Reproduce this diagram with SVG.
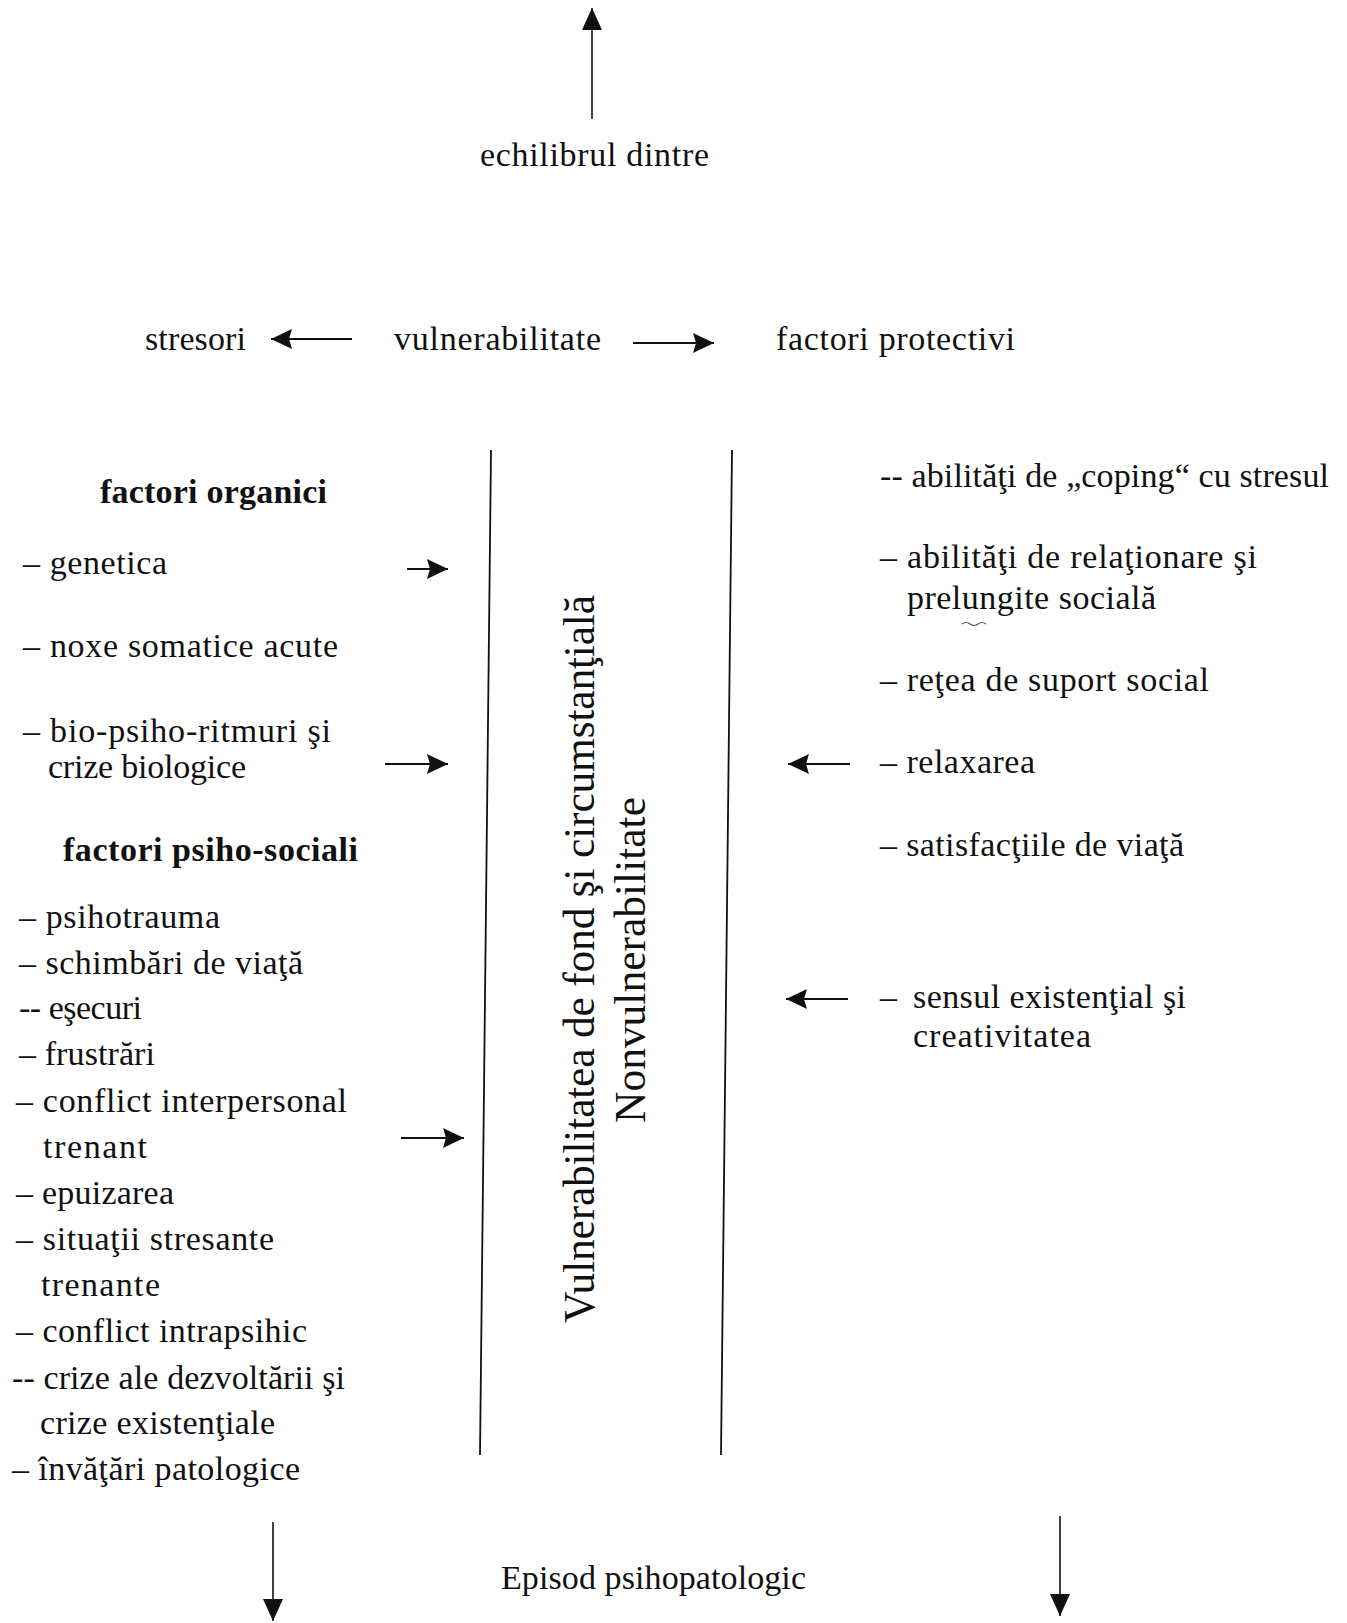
<svg xmlns="http://www.w3.org/2000/svg" width="1347" height="1623" viewBox="0 0 1347 1623">
  <style>
    .t { font-family: "Liberation Serif", "Times New Roman", serif; font-size: 34px; fill: #111; }
    .b { font-weight: bold; }
    .v { font-size: 43.5px; text-anchor: middle; }
    .ln { stroke: #111; fill: none; }
    .ar { stroke: #111; stroke-width: 1.8; fill: none; }
    .av { stroke: #111; stroke-width: 1.6; fill: none; }
  </style>
  <defs>
    <marker id="headH" markerUnits="userSpaceOnUse" viewBox="0 0 21 20" refX="21" refY="10" markerWidth="21" markerHeight="20" orient="auto">
      <path d="M0,0 L21,10 L0,20 L3,10 z" fill="#111"/>
    </marker>
    <marker id="headV" markerUnits="userSpaceOnUse" viewBox="0 0 22 20" refX="22" refY="10" markerWidth="22" markerHeight="20" orient="auto">
      <path d="M0,0 L22,10 L0,20 z" fill="#111"/>
    </marker>
  </defs>
  <rect width="1347" height="1623" fill="#fff"/>

  <!-- connectors -->
  <g id="connectors">
    <line class="av" x1="592" y1="119" x2="592" y2="8" marker-end="url(#headV)"/>
    <line class="ar" x1="352" y1="339" x2="271" y2="339" marker-end="url(#headH)"/>
    <line class="ar" x1="633" y1="343" x2="714" y2="343" marker-end="url(#headH)"/>
    <line class="ar" x1="407" y1="569" x2="448" y2="569" marker-end="url(#headH)"/>
    <line class="ar" x1="385" y1="764" x2="448" y2="764" marker-end="url(#headH)"/>
    <line class="ar" x1="401" y1="1138" x2="464" y2="1138" marker-end="url(#headH)"/>
    <line class="ar" x1="850" y1="764" x2="788" y2="764" marker-end="url(#headH)"/>
    <line class="ar" x1="848" y1="999" x2="786" y2="999" marker-end="url(#headH)"/>
    <line class="av" x1="273" y1="1522" x2="273" y2="1621" marker-end="url(#headV)"/>
    <line class="av" x1="1060" y1="1516" x2="1060" y2="1616" marker-end="url(#headV)"/>
  </g>

  <!-- central band -->
  <g id="band">
    <line class="ln" stroke-width="1.8" x1="491" y1="450" x2="480" y2="1455"/>
    <line class="ln" stroke-width="1.8" x1="732" y1="450" x2="721" y2="1455"/>
    <text class="t v" transform="translate(594,959) rotate(-90)" textLength="728">Vulnerabilitatea de fond şi circumstanţială</text>
    <text class="t v" transform="translate(645,960) rotate(-90)" textLength="326">Nonvulnerabilitate</text>
  </g>

  <g id="echilibru">
    <text class="t" x="480" y="166" textLength="229">echilibrul dintre</text>
  </g>
  <g id="stresori">
    <text class="t" x="145" y="350" textLength="101">stresori</text>
  </g>
  <g id="vulnerabilitate">
    <text class="t" x="394" y="350" textLength="207">vulnerabilitate</text>
  </g>
  <g id="factori-protectivi">
    <text class="t" x="776" y="350" textLength="239">factori protectivi</text>
  </g>

  <!-- left column: organic factors -->
  <g id="factori-organici">
    <text class="t b" x="100" y="503" textLength="227">factori organici</text>
    <text class="t" x="23" y="574" textLength="144">– genetica</text>
    <text class="t" x="23" y="657" textLength="315">– noxe somatice acute</text>
    <text class="t" x="23" y="742" textLength="308">– bio-psiho-ritmuri  şi</text>
    <text class="t" x="48" y="778" textLength="198">crize biologice</text>
  </g>

  <!-- left column: psycho-social factors -->
  <g id="factori-psiho-sociali">
    <text class="t b" x="63" y="861" textLength="295">factori psiho-sociali</text>
    <text class="t" x="19" y="928" textLength="201">– psihotrauma</text>
    <text class="t" x="19" y="974" textLength="284">– schimbări de viaţă</text>
    <text class="t" x="19" y="1019" textLength="123">-- eşecuri</text>
    <text class="t" x="19" y="1065" textLength="136">– frustrări</text>
    <text class="t" x="16" y="1112" textLength="331">– conflict interpersonal</text>
    <text class="t" x="43" y="1158" textLength="104">trenant</text>
    <text class="t" x="16" y="1204" textLength="158">– epuizarea</text>
    <text class="t" x="16" y="1250" textLength="258">– situaţii stresante</text>
    <text class="t" x="41" y="1296" textLength="119">trenante</text>
    <text class="t" x="16" y="1342" textLength="291">– conflict intrapsihic</text>
    <text class="t" x="12" y="1389" textLength="333">-- crize ale dezvoltării şi</text>
    <text class="t" x="40" y="1434" textLength="235">crize existenţiale</text>
    <text class="t" x="12" y="1480" textLength="288">– învăţări patologice</text>
  </g>

  <!-- right column: protective factors -->
  <g id="protectie">
    <text class="t" x="880" y="487" textLength="449">-- abilităţi de „coping“ cu stresul</text>
    <text class="t" x="880" y="568" textLength="377">– abilităţi de relaţionare şi</text>
    <text class="t" x="907" y="609" textLength="249">prelungite socială</text>
    <path d="M962,624 q4,-3 8,0 t8,0 t8,0" stroke="#555" stroke-width="1.2" fill="none"/>
    <text class="t" x="880" y="691" textLength="329">– reţea de suport social</text>
    <text class="t" x="880" y="773" textLength="155">– relaxarea</text>
    <text class="t" x="880" y="856" textLength="304">– satisfacţiile de viaţă</text>
    <text class="t" x="880" y="1008">–</text>
    <text class="t" x="913" y="1008" textLength="273">sensul existenţial şi</text>
    <text class="t" x="913" y="1047" textLength="178">creativitatea</text>
  </g>

  <g id="episod">
    <text class="t" x="501" y="1589" textLength="305">Episod psihopatologic</text>
  </g>
</svg>
